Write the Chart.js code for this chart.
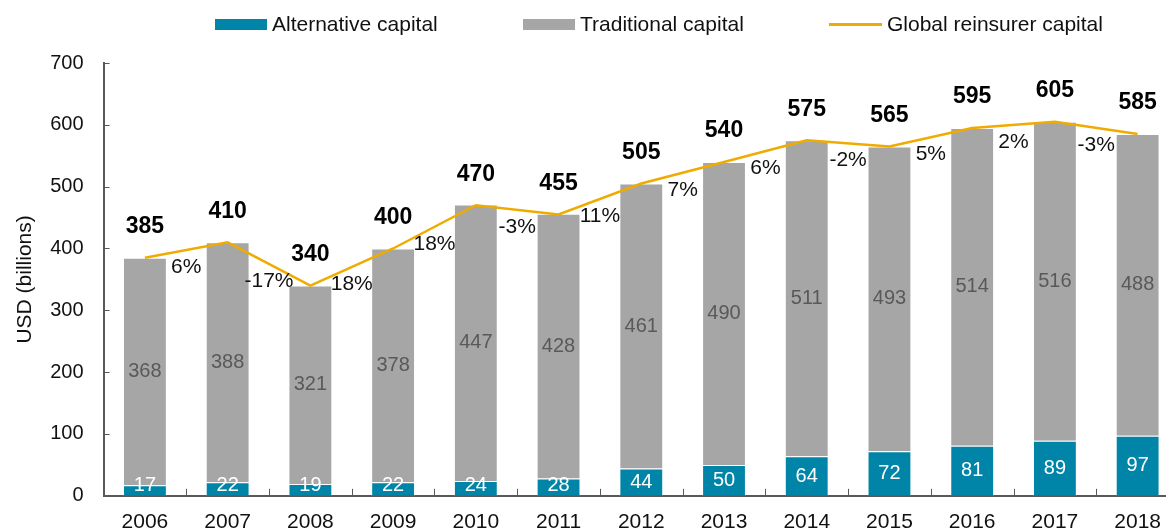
<!DOCTYPE html>
<html>
<head>
<meta charset="utf-8">
<title>Reinsurance capital</title>
<script src="https://cdn.jsdelivr.net/npm/chart.js@4.4.0/dist/chart.umd.min.js"></script>
<style>
  body { margin: 0; background: #fff; font-family: Arial, "Liberation Sans", sans-serif; }
  #wrap { position: relative; width: 1166px; height: 529px; overflow: hidden; }
  #myChart { position: absolute; left: 0; top: 0; }
  #legend { position: absolute; top: 0; left: 0; width: 1166px; height: 48px; }
  .item { position: absolute; top: 12px; display: flex; align-items: center; font-size: 21px; color: #111; height: 24px; white-space: nowrap; }
  .item .sw { width: 52px; height: 11px; margin-right: 5px; }
  .item .ln { width: 53px; height: 3px; margin-right: 5px; }
</style>
</head>
<body>
<div id="wrap">
  <!-- kanvas sedikit lebih besar, dipotong oleh #wrap supaya batang terakhir menempel di tepi kanan -->
  <canvas id="myChart" width="1179" height="549"></canvas>
  <div id="legend">
    <div class="item" style="left:215px"><span class="sw" id="sw0"></span>Alternative capital</div>
    <div class="item" style="left:523px"><span class="sw" id="sw1"></span>Traditional capital</div>
    <div class="item" style="left:829px"><span class="ln" id="sw2"></span>Global reinsurer capital</div>
  </div>
</div>
<script>
// data
const years = ['2006','2007','2008','2009','2010','2011','2012','2013','2014','2015','2016','2017','2018'];
const alternative = [17, 22, 19, 22, 24, 28, 44, 50, 64, 72, 81, 89, 97];
const traditional = [368, 388, 321, 378, 447, 428, 461, 490, 511, 493, 514, 516, 488];
const globalTotal = [385, 410, 340, 400, 470, 455, 505, 540, 575, 565, 595, 605, 585];
const growth = ['6%', '-17%', '18%', '18%', '-3%', '11%', '7%', '6%', '-2%', '5%', '2%', '-3%'];
const yTicks = [0, 100, 200, 300, 400, 500, 600, 700];

const TEAL = '#0085A8';
const GREY = '#A6A6A6';
const GOLD = '#F0AB00';
const AXIS = '#595959';
const FONT = 'Arial, "Liberation Sans"';

document.getElementById('sw0').style.background = TEAL;
document.getElementById('sw1').style.background = GREY;
document.getElementById('sw2').style.background = GOLD;

// plugin kecil untuk tick ke dalam + label angka
const labelsPlugin = {
  id: 'labelsPlugin',
  afterDraw(chart) {
    const ctx = chart.ctx;
    const x = chart.scales.x;
    const y = chart.scales.y;
    const area = chart.chartArea;
    ctx.save();

    // tick ke dalam
    ctx.strokeStyle = AXIS;
    ctx.lineWidth = 1;
    ctx.beginPath();
    yTicks.forEach(v => {
      const py = Math.round(y.getPixelForValue(v)) + 0.5;
      ctx.moveTo(area.left, py);
      ctx.lineTo(area.left + 6, py);
    });
    for (let i = 0; i < years.length - 1; i++) {
      const px = Math.round((x.getPixelForValue(i) + x.getPixelForValue(i + 1)) / 2) + 0.5;
      ctx.moveTo(px, area.bottom);
      ctx.lineTo(px, area.bottom - 7);
    }
    ctx.stroke();

    ctx.textAlign = 'center';
    ctx.textBaseline = 'middle';

    // label di dalam batang
    const altMeta = chart.getDatasetMeta(0);
    const tradMeta = chart.getDatasetMeta(1);
    ctx.font = '20px ' + FONT;
    altMeta.data.forEach((bar, i) => {
      const cy = Math.min((bar.y + bar.base) / 2, bar.base - 10);
      ctx.fillStyle = '#ffffff';
      ctx.fillText(String(alternative[i]), bar.x, cy);
    });
    tradMeta.data.forEach((bar, i) => {
      ctx.fillStyle = AXIS;
      ctx.fillText(String(traditional[i]), bar.x, (bar.y + bar.base) / 2);
    });

    // total (tebal) di atas batang
    ctx.font = 'bold 23px ' + FONT;
    ctx.fillStyle = '#000';
    globalTotal.forEach((v, i) => {
      ctx.fillText(String(v), x.getPixelForValue(i), y.getPixelForValue(v) - 31);
    });

    // persentase pertumbuhan di antara batang
    ctx.font = '21px ' + FONT;
    ctx.fillStyle = '#111';
    growth.forEach((g, i) => {
      const px = (x.getPixelForValue(i) + x.getPixelForValue(i + 1)) / 2;
      const py = (y.getPixelForValue(globalTotal[i]) + y.getPixelForValue(globalTotal[i + 1])) / 2 + 17;
      ctx.fillText(g, px, py);
    });
    ctx.restore();
  }
};

const ctx = document.getElementById('myChart').getContext('2d');
new Chart(ctx, {
  type: 'bar',
  data: {
    labels: years,
    datasets: [
      {
        label: 'Alternative capital',
        data: alternative,
        backgroundColor: TEAL,
        borderColor: 'rgba(255,255,255,0.35)',
        borderWidth: 1,
        stack: 'capital',
        order: 1,
        barPercentage: 0.53,
        categoryPercentage: 1
      },
      {
        label: 'Traditional capital',
        data: traditional,
        backgroundColor: GREY,
        borderColor: 'rgba(255,255,255,0.35)',
        borderWidth: 1,
        stack: 'capital',
        order: 1,
        barPercentage: 0.53,
        categoryPercentage: 1
      },
      {
        type: 'line',
        label: 'Global reinsurer capital',
        data: globalTotal,
        borderColor: GOLD,
        borderWidth: 2.5,
        pointRadius: 0,
        tension: 0,
        stack: 'total',
        order: 0
      }
    ]
  },
  options: {
    responsive: false,
    animation: false,
    layout: { padding: { top: 63, left: 0, right: 0, bottom: 0 } },
    plugins: {
      legend: { display: false },
      tooltip: { enabled: false }
    },
    scales: {
      x: {
        stacked: true,
        grid: { display: false, drawTicks: false },
        border: { display: true, color: AXIS, width: 2 },
        ticks: { color: '#111', font: { family: FONT, size: 21 }, padding: 14, maxRotation: 0 }
      },
      y: {
        stacked: true,
        min: 0,
        max: 700,
        grid: { display: false, drawTicks: false },
        border: { display: true, color: AXIS, width: 2 },
        ticks: { stepSize: 100, color: '#111', font: { family: FONT, size: 20 }, padding: 20 },
        title: {
          display: true,
          text: 'USD (billions)',
          color: '#111',
          font: { family: FONT, size: 21 },
          padding: { top: 13, bottom: -8 }
        }
      }
    }
  },
  plugins: [labelsPlugin]
});
</script>
</body>
</html>
